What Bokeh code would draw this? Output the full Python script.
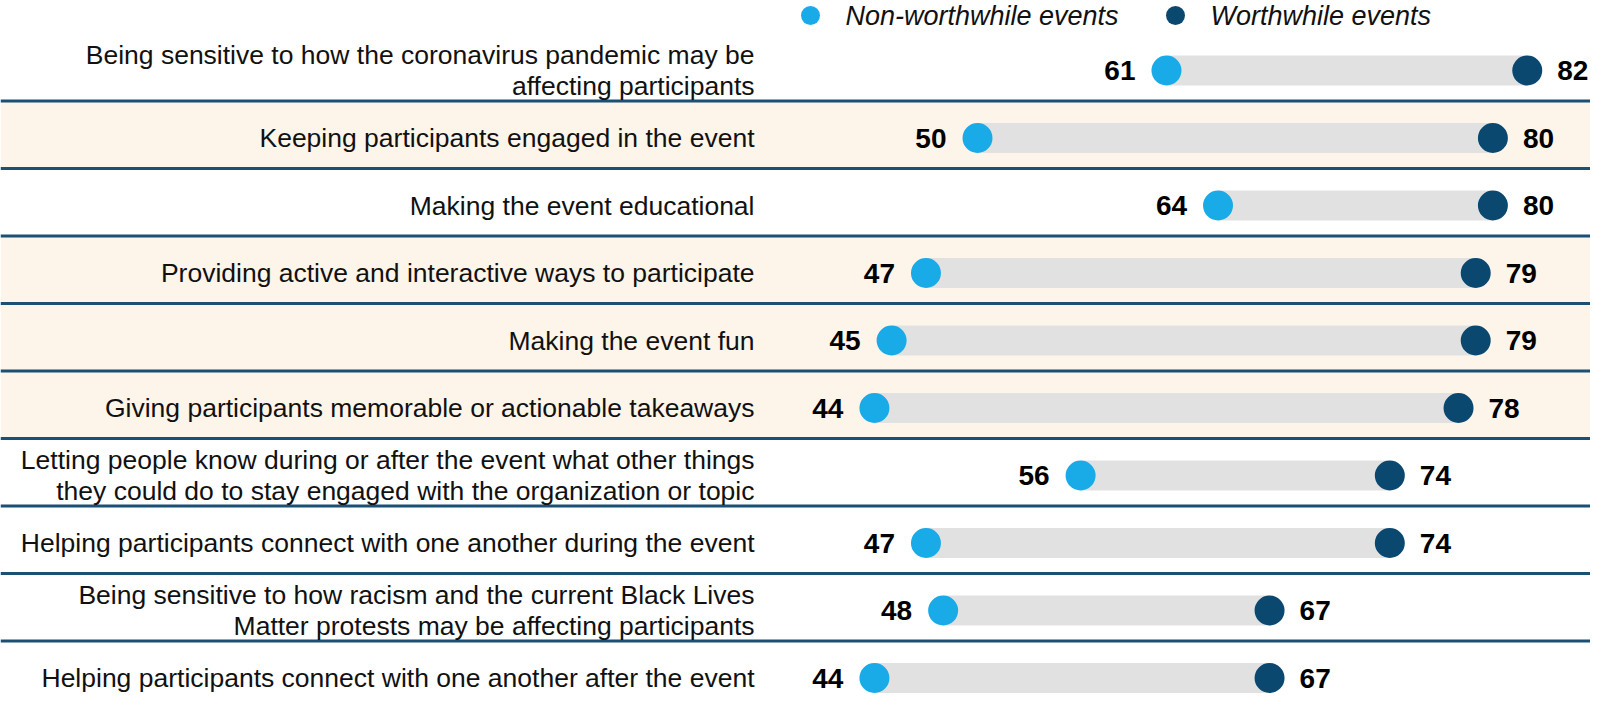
from bokeh.plotting import figure
from bokeh.models import Range1d, ColumnDataSource
from bokeh.embed import file_html
from bokeh.resources import INLINE
from bokeh.core.properties import value

# ---------------- data ----------------
categories = [
    "Being sensitive to how the coronavirus pandemic may be\naffecting participants",
    "Keeping participants engaged in the event",
    "Making the event educational",
    "Providing active and interactive ways to participate",
    "Making the event fun",
    "Giving participants memorable or actionable takeaways",
    "Letting people know during or after the event what other things\nthey could do to stay engaged with the organization or topic",
    "Helping participants connect with one another during the event",
    "Being sensitive to how racism and the current Black Lives\nMatter protests may be affecting participants",
    "Helping participants connect with one another after the event",
]
non_worthwhile = [61, 50, 64, 47, 45, 44, 56, 47, 48, 44]
worthwhile = [82, 80, 80, 79, 79, 78, 74, 74, 67, 67]
series_names = ["Non-worthwhile events", "Worthwhile events"]
shaded_rows = [1, 3, 4, 5]

# ---------------- styling / layout ----------------
LIGHT = "#19aae8"
DARK = "#0b4870"
BAR = "#e1e1e1"
BEIGE = "#fdf5ea"
SEP = "#1c4f74"
FONT = "Liberation Sans"

W, H = 1590, 696
PX_PER_UNIT = 17.18
X0_PX = 118.0
x_start = -X0_PX / PX_PER_UNIT
x_end = (W - X0_PX) / PX_PER_UNIT


def px_to_x(px):
    return (px - X0_PX) / PX_PER_UNIT


ROW0 = 70.0
ROW_STEP = 67.5
SEP_OFF = 30.5
n = len(categories)
row_y = [ROW0 + ROW_STEP * i for i in range(n)]
sep_y = [row_y[i] + SEP_OFF for i in range(n - 1)]

p = figure(width=W, height=H,
           x_range=Range1d(x_start, x_end), y_range=Range1d(H, 0),
           output_backend="svg", toolbar_location=None, min_border=0,
           x_axis_location=None, y_axis_location=None)
p.outline_line_color = None
p.grid.visible = False
p.background_fill_color = "white"
p.border_fill_color = "white"

# shaded bands
band_top = [row_y[r] - (ROW_STEP - SEP_OFF) for r in shaded_rows]
band_bot = [row_y[r] + SEP_OFF for r in shaded_rows]
p.quad(left=x_start, right=x_end, top=band_top, bottom=band_bot,
       fill_color=BEIGE, line_color=None)

# separators
p.segment(x0=x_start, x1=x_end, y0=sep_y, y1=sep_y, line_color=SEP, line_width=3)

src = ColumnDataSource(dict(y=row_y, lo=non_worthwhile, hi=worthwhile,
                            lo_t=[str(v) for v in non_worthwhile],
                            hi_t=[str(v) for v in worthwhile]))

p.hbar(y="y", left="lo", right="hi", height=30, fill_color=BAR, line_color=None, source=src)
p.scatter(x="lo", y="y", size=30, fill_color=LIGHT, line_color=None, source=src)
p.scatter(x="hi", y="y", size=30, fill_color=DARK, line_color=None, source=src)

p.text(x="lo", y="y", text="lo_t", x_offset=-31, text_align="right", text_baseline="middle",
       text_font=value(FONT), text_font_size="28px", text_font_style="bold",
       text_color="black", source=src)
p.text(x="hi", y="y", text="hi_t", x_offset=30, text_align="left", text_baseline="middle",
       text_font=value(FONT), text_font_size="28px", text_font_style="bold",
       text_color="black", source=src)

# category labels (split into lines)
lab_x, lab_y, lab_t = [], [], []
LINE_H = 31.5
for i, cat in enumerate(categories):
    lines = cat.split("\n")
    k = len(lines)
    for j, ln in enumerate(lines):
        lab_x.append(px_to_x(754))
        lab_y.append(row_y[i] + (j - (k - 1) / 2) * LINE_H)
        lab_t.append(ln)
p.text(x=lab_x, y=lab_y, text=lab_t, text_align="right", text_baseline="middle",
       text_font=value(FONT), text_font_size="26.5px", text_color="#111111")

# legend (manual)
leg_y = 15
leg_dot_px = [810, 1175]
leg_colors = [LIGHT, DARK]
p.scatter(x=[px_to_x(v) for v in leg_dot_px], y=[leg_y] * 2, size=19,
          fill_color=leg_colors, line_color=None)
p.text(x=[px_to_x(v + 35) for v in leg_dot_px], y=[leg_y] * 2, text=series_names,
       text_align="left", text_baseline="middle", text_font=value(FONT),
       text_font_size="27px", text_font_style="italic", text_color="#111111")

open("out.html", "w").write(file_html(p, INLINE, title="Event practices"))
